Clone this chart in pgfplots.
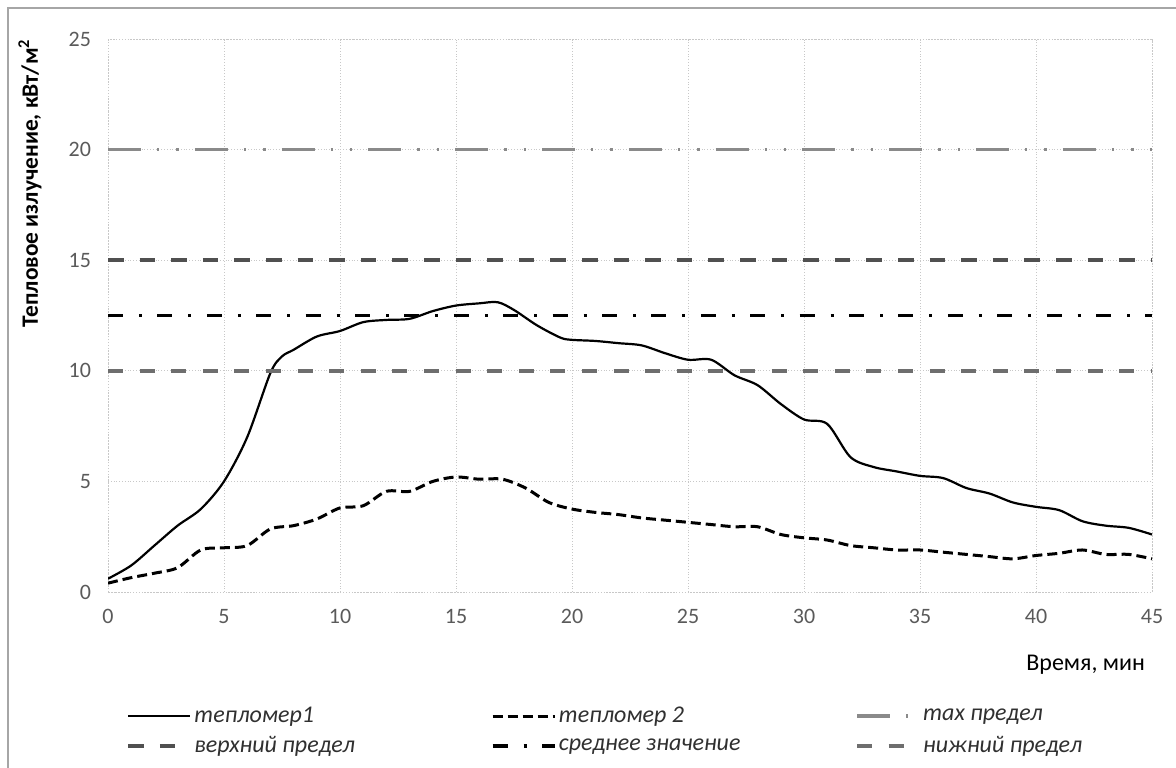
\documentclass[border=0pt]{standalone}
\usepackage{fontspec}
\setmainfont{Carlito}
\usepackage{pgfplots}
\pgfplotsset{compat=1.18}
\definecolor{tickgray}{HTML}{5A5A5A}
\definecolor{gridgray}{HTML}{C8C8C8}
\definecolor{maxgray}{HTML}{8A8A8A}
\definecolor{upgray}{HTML}{505050}
\definecolor{lowgray}{HTML}{6E6E6E}
\definecolor{legtext}{HTML}{303030}
\begin{document}
\begin{tikzpicture}
\useasboundingbox (-54pt,-87.5pt) rectangle (534pt,296pt);
\draw[gray!70, line width=0.8pt] (-50pt,-100pt) -- (-50pt,292pt) -- (600pt,292pt);
\begin{axis}[
  scale only axis,
  width=522pt, height=276.5pt,
  xmin=0, xmax=45, ymin=0, ymax=25,
  xtick={0,5,...,45}, ytick={0,5,...,25},
  major tick length=0pt,
  grid=major,
  grid style={gridgray, densely dotted, line width=0.5pt},
  axis line style={gridgray, densely dotted, line width=0.5pt},
  /pgf/number format/assume math mode=true,
  tick label style={font=\fontsize{11}{13}\selectfont, text=tickgray},
  xticklabel style={yshift=-5pt},
  yticklabel style={xshift=-5pt},
  ylabel={\bfseries Тепловое излучение, кВт/м\textsuperscript{2}},
  ylabel style={at={(axis description cs:-0.0747,1.0127)}, anchor=east, font=\fontsize{11.7}{14}\selectfont},
  xlabel={Время, мин},
  xlabel style={at={(axis description cs:1,0)}, anchor=east, yshift=-36.5pt, font=\fontsize{12}{14}\selectfont},
  legend columns=3,
  legend style={draw=none, fill=none, at={(axis description cs:0,0)}, anchor=north west,
    xshift=9pt, yshift=-56pt, font=\fontsize{12}{14}\selectfont\itshape, text=legtext, inner sep=0pt,
    nodes={inner sep=1.2pt}, row sep=3pt},
  legend cell align=left,
  legend image code/.code={\draw[#1] (0pt,0pt) -- (31pt,0pt);},
]
\addplot[black, line width=1.1pt, smooth] coordinates {
(0,0.6) (1,1.2) (2,2.1) (3,3.0) (4,3.75) (5,5.0) (6,7.0) (7,9.9) (7.5,10.65) (8,10.95) (9,11.55) (10,11.8)
(11,12.2) (12,12.3) (13,12.35) (14,12.7) (15,12.95) (16,13.05) (16.8,13.1) (17.5,12.75) (18.5,12.05)
(19.5,11.5) (20,11.4) (21,11.35) (22,11.25) (23,11.15) (24,10.8) (25,10.5) (26,10.5) (27,9.8) (28,9.35)
(29,8.5) (30,7.8) (31,7.6) (32,6.1) (33,5.65) (34,5.45) (35,5.25) (36,5.15) (37,4.7) (38,4.45) (39,4.05)
(40,3.85) (41,3.7) (42,3.2) (43,3.0) (44,2.9) (45,2.6)
};
\addlegendentry{\makebox[147pt][l]{тепломер1}}
\addplot[black, line width=1.5pt, smooth, dash pattern=on 5pt off 2.5pt] coordinates {
(0,0.4) (1,0.65) (2,0.85) (3,1.1) (4,1.9) (5,2.0) (6,2.1) (7,2.85) (8,3.0) (9,3.3) (10,3.8) (11,3.9)
(12,4.55) (13,4.55) (14,5.0) (15,5.2) (16,5.1) (17,5.1) (18,4.7) (19,4.05) (20,3.75) (21,3.6) (22,3.5)
(23,3.35) (24,3.25) (25,3.15) (26,3.05) (27,2.95) (28,2.95) (29,2.6) (30,2.45) (31,2.35) (32,2.1)
(33,2.0) (34,1.9) (35,1.9) (36,1.8) (37,1.7) (38,1.6) (39,1.5) (40,1.65) (41,1.75) (42,1.9) (43,1.7)
(44,1.7) (45,1.5)
};
\addlegendentry{\makebox[147pt][l]{тепломер 2}}
\addplot[maxgray, line width=1.8pt, dash pattern=on 16.5pt off 8pt on 1.2pt off 8.5pt on 1.2pt off 8pt] coordinates {(0,20) (45,20)};
\addlegendentry{max предел}
\addplot[upgray, line width=1.8pt, dash pattern=on 7.8pt off 8pt] coordinates {(0,15) (45,15)};
\addlegendentry{\makebox[147pt][l]{верхний предел}}
\addplot[black, line width=1.8pt, dash pattern=on 7.5pt off 8pt on 1.5pt off 7.7pt] coordinates {(0,12.5) (45,12.5)};
\addlegendentry{\makebox[147pt][l]{среднее значение}}
\addplot[lowgray, line width=1.8pt, dash pattern=on 7.5pt off 8.3pt] coordinates {(0,10) (45,10)};
\addlegendentry{нижний предел}
\end{axis}
\end{tikzpicture}
\end{document}
